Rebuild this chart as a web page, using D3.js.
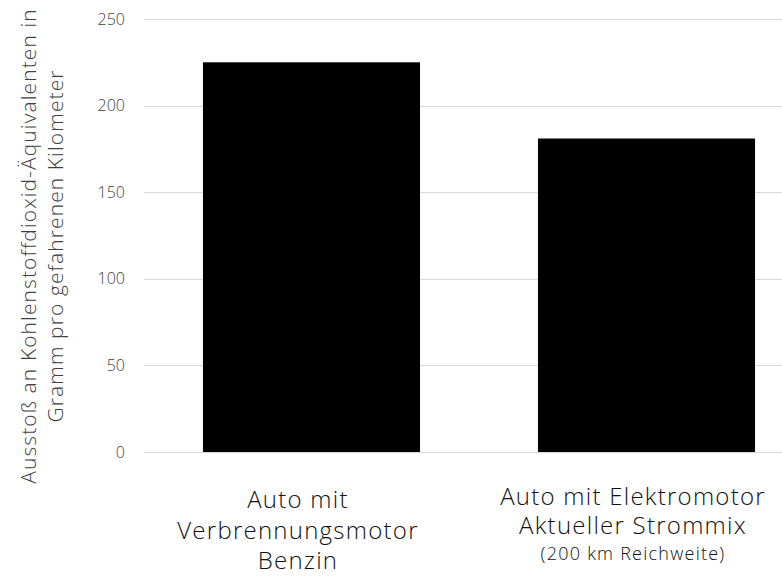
<!DOCTYPE html>
<html>
<head>
<meta charset="utf-8">
<script src="https://cdn.jsdelivr.net/npm/d3@7"></script>
<style>
  html, body { margin: 0; padding: 0; background: #fff; }
  svg { display: block; }
  text { font-family: "Open Sans", "Noto Sans", sans-serif; font-weight: 300; }
</style>
</head>
<body>
<svg id="chart" width="782" height="576"></svg>
<script>
// CO2-equivalent emissions per driven kilometre
const categories = ["benzin", "elektro"];
const values = [225, 181];
const categoryLines = [
  ["Auto mit", "Verbrennungsmotor", "Benzin"],
  ["Auto mit Elektromotor", "Aktueller Strommix", "(200 km Reichweite)"]
];
const yTicks = [0, 50, 100, 150, 200, 250];
const yTitleLines = [
  "Ausstoß an Kohlenstoffdioxid-Äquivalenten in",
  "Gramm pro gefahrenen Kilometer"
];

const svg = d3.select("#chart");
const plot = { left: 144, right: 814, top: 19, bottom: 452 };

const x = d3.scaleBand()
  .domain(categories)
  .range([plot.left, plot.right])
  .paddingInner(0.352)
  .paddingOuter(0.176);

const y = d3.scaleLinear()
  .domain([0, 250])
  .range([plot.bottom, plot.top]);

// horizontal gridlines
svg.append("g")
  .selectAll("line")
  .data(yTicks)
  .join("line")
  .attr("x1", plot.left)
  .attr("x2", 782)
  .attr("y1", d => Math.round(y(d)) + 0.5)
  .attr("y2", d => Math.round(y(d)) + 0.5)
  .attr("stroke", "#d9d9d9")
  .attr("stroke-width", 1);

// y axis tick labels
const yAxis = d3.axisLeft(y).tickValues(yTicks).tickSize(0).tickPadding(0);
const gy = svg.append("g")
  .attr("transform", `translate(125,0)`)
  .call(yAxis);
gy.select(".domain").remove();
gy.selectAll("text")
  .attr("font-family", "'Open Sans', 'Noto Sans', sans-serif")
  .attr("font-weight", 400)
  .attr("font-size", 16)
  .attr("fill", "#404040");

// bars
svg.append("g")
  .selectAll("rect")
  .data(values)
  .join("rect")
  .attr("x", (d, i) => x(categories[i]))
  .attr("width", x.bandwidth())
  .attr("y", d => y(d))
  .attr("height", d => y(0) - y(d))
  .attr("fill", "#000");

// category labels, three lines under each bar
const lineY = [[508, 539, 569], [505, 534, 560]];
const lineSize = [[24, 24, 24], [24, 24, 18]];
categoryLines.forEach((lines, i) => {
  const cx = x(categories[i]) + x.bandwidth() / 2 - 13.5;
  lines.forEach((t, j) => {
    svg.append("text")
      .attr("x", cx)
      .attr("y", lineY[i][j])
      .attr("text-anchor", "middle")
      .attr("font-size", lineSize[i][j])
      .attr("letter-spacing", 1.25)
      .attr("fill", "#111")
      .text(t);
  });
});

// y axis title, rotated
const title = svg.append("text")
  .attr("transform", "translate(0,246) rotate(-90)")
  .attr("text-anchor", "middle")
  .attr("font-size", 21)
  .attr("letter-spacing", 1.1)
  .attr("fill", "#404040");
yTitleLines.forEach((t, j) => {
  title.append("tspan")
    .attr("x", 0)
    .attr("y", 36 + j * 27)
    .text(t);
});
</script>
</body>
</html>
